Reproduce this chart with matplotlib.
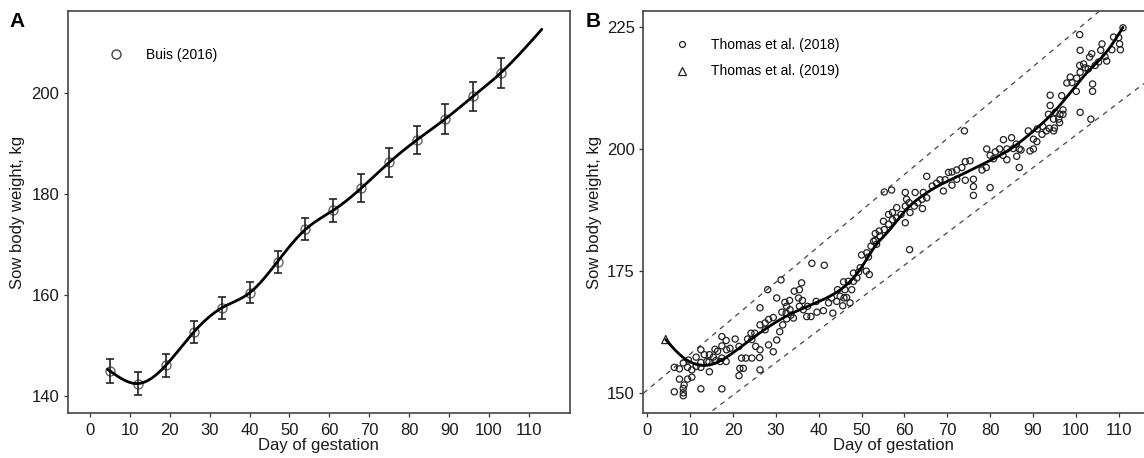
import numpy as np
import matplotlib
matplotlib.use("Agg")
import matplotlib.pyplot as plt
from matplotlib.lines import Line2D

plt.rcParams['font.family'] = ['Liberation Sans', 'DejaVu Sans']

# ---------------- Panel A data (Buis 2016) ----------------
a_days = [5, 12, 19, 26, 33, 40, 47, 54, 61, 68, 75, 82, 89, 96, 103]
a_weight = [144.9, 142.4, 146.0, 152.6, 157.4, 160.4, 166.6, 173.0, 176.8,
            181.2, 186.3, 190.8, 194.9, 199.4, 204.1]
a_err = [2.3, 2.2, 2.2, 2.2, 2.2, 2.1, 2.2, 2.2, 2.3, 2.8, 2.9, 2.8, 2.9, 2.9, 3.0]
a_curve_days = a_days + [113.2]
a_curve_weight = a_weight + [212.7]

# ---------------- Panel B data ----------------
b_tri_days = [4.3]
b_tri_weight = [161.0]

b_days = [
    6.3, 8.4, 8.4, 8.4, 8.6, 7.5, 9.4, 10.4, 12.5, 17.4,
    6.3, 7.5, 9.4, 10.4, 8.4, 9.6, 11.4, 12.5, 12.5, 14.5,
    14.4, 12.5, 13.3, 14.5, 15.8, 15.4, 16.4, 17.4, 17.4, 18.4,
    18.5, 19.3, 20.5, 21.4, 22.0, 21.6, 22.4, 21.4, 23.4, 24.2,
    24.4, 25.3, 26.3, 26.2, 26.3, 24.4, 23.0, 25.1, 26.3, 27.5,
    27.5, 28.3, 28.3, 26.3, 28.1, 17.0, 18.4, 13.9, 11.4, 17.4, 16.0,
    29.4, 30.2, 30.9, 31.6, 32.5, 33.5, 29.4,
    30.2, 31.2, 32.1, 33.2, 32.5, 31.4, 32.4, 33.3, 34.1, 34.3,
    35.5, 36.0, 35.3, 36.2, 35.5, 36.4, 37.4, 37.2, 38.2, 38.4,
    39.4, 39.6, 41.3, 41.1, 42.3, 43.0, 43.3, 44.2, 44.4, 45.0,
    45.8, 45.6, 46.1, 45.9, 46.9, 46.5, 47.3, 47.7, 48.1, 48.9,
    49.3, 48.1, 49.7, 50.0, 51.1, 51.2, 51.6, 51.8,
    52.2, 53.2, 54.3, 53.2, 54.1, 55.3, 52.8, 53.5, 55.1, 56.3,
    56.3, 57.2, 58.2, 58.2, 57.2, 59.2, 60.2, 60.2, 60.5, 61.3,
    60.2, 61.1, 62.5, 62.3, 63.1, 64.1, 64.2, 64.4, 65.2, 65.2,
    66.5, 67.5, 68.3, 69.5, 69.1, 70.3, 71.1, 71.1, 72.2, 73.4,
    72.2, 74.2, 75.3, 74.2, 74.0, 55.3, 57.0, 61.2, 76.1, 76.1, 76.1,
    80.0, 78.1, 79.1, 79.2, 80.0, 80.8, 81.2, 82.2, 83.1, 83.0,
    83.9, 83.9, 85.0, 85.4, 86.1, 86.8, 86.2, 87.2, 86.8, 88.9,
    89.3, 90.1, 90.1, 90.9, 91.0, 92.1, 92.3, 93.1, 93.8, 93.6,
    94.0, 94.8, 94.0, 95.2, 96.0, 96.3, 97.0, 96.2, 96.7, 97.9,
    98.7, 94.8, 95.0, 97.0,
    99.1, 100.2, 100.1, 101.0, 101.0, 100.9, 101.0, 101.8, 102.2, 100.9,
    102.9, 103.2, 103.7, 103.9, 103.9, 103.5, 106.1, 105.8, 106.8, 107.2,
    108.4, 108.8, 110.0, 110.2, 110.4, 111.0, 105.3, 104.5,
]
b_weight = [
    150.3, 149.5, 150.1, 151.0, 151.7, 152.9, 152.9, 153.3, 150.9, 150.9,
    155.3, 155.0, 155.3, 154.8, 156.2, 156.8, 157.4, 156.3, 155.3, 154.4,
    156.4, 158.9, 157.9, 157.9, 159.0, 157.4, 158.6, 159.7, 161.6, 160.8,
    158.9, 159.2, 161.1, 159.6, 157.2, 155.1, 155.1, 153.6, 161.1, 162.3,
    161.0, 159.6, 158.9, 157.3, 154.8, 157.2, 157.2, 162.3, 164.0, 164.4,
    163.0, 165.1, 159.9, 167.5, 171.2, 156.5, 156.5, 156.5, 155.5, 157.2, 156.7,
    158.5, 160.9, 162.6, 164.0, 165.2, 166.0, 165.5,
    169.5, 173.2, 168.6, 169.0, 167.8, 166.6, 166.4, 167.1, 165.4, 170.9,
    171.2, 172.6, 169.5, 169.0, 167.8, 167.1, 167.8, 165.7, 165.7, 176.6,
    168.8, 166.6, 176.2, 166.9, 168.5, 169.5, 166.4, 168.8, 171.2, 169.85,
    172.8, 167.9, 171.2, 169.5, 172.9, 169.6, 168.5, 171.2, 172.9, 173.6,
    174.8, 174.6, 175.7, 178.3, 175.0, 178.75, 177.9, 174.3,
    180.1, 181.3, 182.2, 182.7, 183.2, 183.5, 181.1, 180.5, 185.2, 184.6,
    186.6, 187.0, 188.0, 185.9, 185.5, 186.6, 184.9, 188.3, 189.7, 187.0,
    191.1, 189.0, 191.1, 188.3, 189.0, 189.7, 187.8, 191.1, 190.0, 194.4,
    192.4, 193.0, 193.7, 193.7, 191.4, 195.2, 195.3, 192.6, 195.7, 196.2,
    193.8, 197.4, 197.6, 193.6, 203.7, 191.2, 191.6, 179.4, 193.8, 192.3, 190.5,
    192.1, 195.7, 196.2, 200.0, 198.7, 198.0, 199.4, 200.0, 201.9, 198.7,
    197.8, 200.0, 202.3, 200.1, 201.0, 200.0, 198.5, 199.8, 196.2, 203.7,
    199.6, 200.0, 202.0, 201.5, 204.1, 203.0, 204.6, 203.7, 204.2, 207.1,
    211.0, 203.7, 208.9, 207.5, 206.1, 207.1, 207.1, 205.4, 210.9, 213.5,
    214.7, 206.1, 204.3, 208.0,
    213.6, 214.5, 211.8, 207.5, 220.2, 223.4, 215.7, 217.4, 216.6, 217.1,
    216.4, 218.8, 219.5, 213.3, 211.8, 206.1, 221.5, 220.2, 218.9, 218.0,
    220.3, 222.9, 222.8, 221.5, 220.3, 224.8, 217.8, 217.1,
]

b_curve_days = [4.3, 8, 12, 15, 20, 26, 32.5, 38, 43.5, 47, 50, 53, 56.5, 60,
                64, 68, 73, 78, 82.5, 86.5, 90, 94, 98.5, 103, 107, 111]
b_curve_weight = [161.0, 157.6, 155.8, 155.9, 158.3, 162.2, 165.8, 168.0, 170.3,
                  172.6, 175.8, 179.9, 183.4, 187.2, 190.3, 192.5, 194.6, 196.8,
                  198.8, 201.1, 203.6, 206.8, 211.3, 216.0, 219.7, 224.9]

# prediction band: (1 +/- band_rel) * (band_intercept + band_slope * day)
band_intercept = 143.5
band_slope = 0.70
band_rel = 0.05

x_ticks = list(range(0, 111, 10))
a_yticks = [140, 160, 180, 200]
b_yticks = [150, 175, 200, 225]


def natural_spline(x, y, xs):
    x = np.asarray(x, float)
    y = np.asarray(y, float)
    n = len(x)
    h = np.diff(x)
    A = np.zeros((n, n))
    r = np.zeros(n)
    A[0, 0] = 1
    A[-1, -1] = 1
    for i in range(1, n - 1):
        A[i, i - 1] = h[i - 1]
        A[i, i] = 2 * (h[i - 1] + h[i])
        A[i, i + 1] = h[i]
        r[i] = 3 * ((y[i + 1] - y[i]) / h[i] - (y[i] - y[i - 1]) / h[i - 1])
    c = np.linalg.solve(A, r)
    b = (y[1:] - y[:-1]) / h - h * (2 * c[:-1] + c[1:]) / 3
    d = (c[1:] - c[:-1]) / (3 * h)
    idx = np.clip(np.searchsorted(x, xs) - 1, 0, n - 2)
    dx = xs - x[idx]
    return y[idx] + b[idx] * dx + c[idx] * dx ** 2 + d[idx] * dx ** 3


W, H = 1144, 458
fig = plt.figure(figsize=(W / 100, H / 100), dpi=100)

spine_col = '#444444'
tick_col = '#333333'
text_col = '#1a1a1a'


def style_axes(ax, right=True):
    for s in ax.spines.values():
        s.set_color(spine_col)
        s.set_linewidth(1.2)
    if not right:
        ax.spines['right'].set_visible(False)
    ax.tick_params(direction='out', length=3.2, width=0.9, color=tick_col,
                   labelsize=12, labelcolor=text_col)
    ax.tick_params(axis='x', pad=3.5)
    ax.tick_params(axis='y', pad=3.0)
    ax.set_xticks(x_ticks)
    ax.set_xlabel('Day of gestation', fontsize=12, color=text_col, labelpad=0.5)


# ---------------- Panel A ----------------
axA = fig.add_axes([67.7 / W, 1 - 413.3 / H, (569.7 - 67.7) / W, (413.3 - 10.7) / H])
axA.errorbar(a_days, a_weight, yerr=a_err, fmt='none', ecolor='#222222',
             elinewidth=1.2, capsize=3.2, capthick=1.2, zorder=3)
axA.plot(a_days, a_weight, linestyle='none', marker='o', markersize=6.5,
         markerfacecolor='none', markeredgecolor='#666666', markeredgewidth=1.0,
         zorder=2)
xa = np.linspace(4.4, a_curve_days[-1], 400)
axA.plot(xa, natural_spline(a_curve_days, a_curve_weight, xa), color='black',
         lw=2.0, zorder=4, solid_capstyle='round')
axA.set_xlim(-5.56, 120.2)
axA.set_ylim(136.5, 216.4)
axA.set_yticks(a_yticks)
style_axes(axA)
hA = [Line2D([], [], linestyle='none', marker='o', markersize=6.5,
             markerfacecolor='none', markeredgecolor='#444444', markeredgewidth=1.0)]
legA = axA.legend(hA, ['Buis (2016)'], loc='upper left', frameon=False,
                  fontsize=10, handlelength=1.0, handletextpad=1.6,
                  borderpad=0, borderaxespad=0,
                  bbox_to_anchor=((109.5 - 67.7) / (569.7 - 67.7), (413.3 - 47.5) / (413.3 - 10.7)))

# ---------------- Panel B ----------------
axB = fig.add_axes([643.3 / W, 1 - 413.3 / H, (W - 643.3) / W, (413.3 - 10.7) / H])
xl = (-0.93, 115.9)
xb = np.linspace(xl[0], xl[1], 200)
center = band_intercept + band_slope * xb
for f in (1 + band_rel, 1 - band_rel):
    axB.plot(xb, f * center, color='#444444', lw=0.9, dashes=(4, 4), zorder=1)
axB.scatter(b_days, b_weight, s=20, facecolors='none', edgecolors='#222222',
            linewidths=0.9, zorder=2)
axB.scatter(b_tri_days, b_tri_weight, s=34, marker='^', facecolors='none',
            edgecolors='#222222', linewidths=0.9, zorder=2)
xc = np.linspace(b_curve_days[0], b_curve_days[-1], 400)
axB.plot(xc, natural_spline(b_curve_days, b_curve_weight, xc), color='black',
         lw=2.0, zorder=4, solid_capstyle='round')
axB.set_xlim(*xl)
axB.set_ylim(145.9, 228.3)
axB.set_yticks(b_yticks)
style_axes(axB, right=False)
hB = [Line2D([], [], linestyle='none', marker='o', markersize=4.3,
             markerfacecolor='none', markeredgecolor='#222222', markeredgewidth=0.9),
      Line2D([], [], linestyle='none', marker='^', markersize=5.2,
             markerfacecolor='none', markeredgecolor='#222222', markeredgewidth=0.9)]
legB = axB.legend(hB, ['Thomas et al. (2018)', 'Thomas et al. (2019)'],
                  loc='upper left', frameon=False, fontsize=10, handlelength=1.0,
                  handletextpad=1.6, borderpad=0, borderaxespad=0, labelspacing=0.9,
                  bbox_to_anchor=((674.8 - 643.3) / (W - 643.3), (413.3 - 38) / (413.3 - 10.7)))

# ---------------- Labels ----------------
fig.text(17.6 / W, 1 - 212 / H, 'Sow body weight, kg', rotation=90, ha='center',
         va='center', fontsize=12, color=text_col)
fig.text(595 / W, 1 - 212 / H, 'Sow body weight, kg', rotation=90, ha='center',
         va='center', fontsize=12, color=text_col)
fig.text(9 / W, 1 - 12 / H, 'A', fontsize=15, fontweight='bold', ha='left', va='top')
fig.text(586 / W, 1 - 12 / H, 'B', fontsize=15, fontweight='bold', ha='left', va='top')

fig.savefig('out.png', dpi=100)
